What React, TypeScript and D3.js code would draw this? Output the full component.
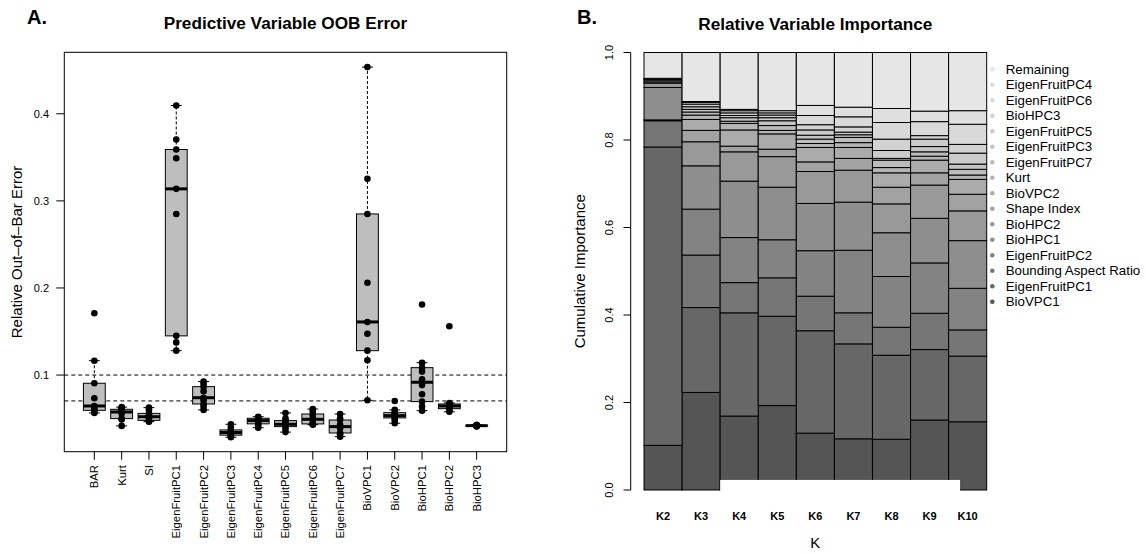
import React, { useEffect, useRef } from 'react';
import * as d3 from 'd3';

// ---- Panel A: OOB error per predictive variable (one run per dot) ----
const oobVariables = [
  "BAR", "Kurt", "SI", "EigenFruitPC1", "EigenFruitPC2", "EigenFruitPC3", "EigenFruitPC4",
  "EigenFruitPC5", "EigenFruitPC6", "EigenFruitPC7", "BioVPC1", "BioVPC2", "BioHPC1", "BioHPC2", "BioHPC3",
];
const oobBAR = [0.171, 0.1165, 0.0906, 0.0734, 0.0645, 0.0615, 0.0595, 0.0578, 0.0565];
const oobKurt = [0.0632, 0.0622, 0.0607, 0.0595, 0.0576, 0.056, 0.05, 0.049, 0.0416];
const oobSI = [0.0626, 0.06, 0.056, 0.0545, 0.0522, 0.0505, 0.048, 0.047, 0.0465];
const oobEFPC1 = [0.4095, 0.3705, 0.359, 0.349, 0.3138, 0.285, 0.145, 0.1375, 0.128];
const oobEFPC2 = [0.0925, 0.09, 0.0867, 0.0815, 0.074, 0.071, 0.0668, 0.064, 0.06];
const oobEFPC3 = [0.0435, 0.04, 0.037, 0.0355, 0.034, 0.0325, 0.031, 0.0295, 0.0286];
const oobEFPC4 = [0.0522, 0.051, 0.0504, 0.049, 0.0477, 0.0465, 0.044, 0.042, 0.0396];
const oobEFPC5 = [0.0565, 0.05, 0.0477, 0.045, 0.0435, 0.0425, 0.0408, 0.038, 0.0345];
const oobEFPC6 = [0.061, 0.0585, 0.0553, 0.053, 0.0492, 0.0475, 0.0439, 0.0435, 0.043];
const oobEFPC7 = [0.0553, 0.05, 0.0484, 0.043, 0.0408, 0.039, 0.0335, 0.032, 0.0293];
const oobBioVPC1 = [0.4536, 0.3253, 0.285, 0.206, 0.161, 0.1475, 0.128, 0.117, 0.071];
const oobBioVPC2 = [0.0703, 0.06, 0.0568, 0.0555, 0.0534, 0.0525, 0.0508, 0.048, 0.0447];
const oobBioHPC1 = [0.181, 0.1142, 0.1085, 0.104, 0.095, 0.0885, 0.078, 0.0695, 0.064, 0.0591];
const oobBioHPC2 = [0.156, 0.068, 0.0668, 0.0655, 0.0645, 0.063, 0.0614, 0.06, 0.0578];
const oobBioHPC3 = [0.0428, 0.0424, 0.0422, 0.042, 0.0419, 0.0418, 0.0416, 0.0414, 0.041];
const oobRuns = [
  oobBAR, oobKurt, oobSI, oobEFPC1, oobEFPC2, oobEFPC3, oobEFPC4, oobEFPC5,
  oobEFPC6, oobEFPC7, oobBioVPC1, oobBioVPC2, oobBioHPC1, oobBioHPC2, oobBioHPC3,
];
const oobTicks = [0.1, 0.2, 0.3, 0.4];
const oobCutoffs = [0.1, 0.0703];

// ---- Panel B: relative importance per K, stacked bottom-up ----
const importanceKeys = [
  "BioVPC1", "EigenFruitPC1", "Bounding Aspect Ratio", "EigenFruitPC2", "BioHPC1", "BioHPC2",
  "Shape Index", "BioVPC2", "Kurt", "EigenFruitPC7", "EigenFruitPC3", "EigenFruitPC5",
  "BioHPC3", "EigenFruitPC6", "EigenFruitPC4", "Remaining",
];
const kLabels = ["K2", "K3", "K4", "K5", "K6", "K7", "K8", "K9", "K10"];
const impK2 = [0.102, 0.682, 0.06, 0.002, 0.074, 0.01, 0.003, 0.004, 0.002, 0.002, 0, 0, 0, 0, 0, 0.059];
const impK3 = [0.223, 0.194, 0.12, 0.105, 0.099, 0.055, 0.026, 0.025, 0.01, 0.007, 0.006, 0.006, 0.006, 0.004, 0.002, 0.112];
const impK4 = [0.169, 0.236, 0.069, 0.103, 0.129, 0.067, 0.013, 0.037, 0.015, 0.005, 0.008, 0.005, 0.006, 0.005, 0.003, 0.13];
const impK5 = [0.193, 0.204, 0.088, 0.087, 0.12, 0.07, 0.017, 0.035, 0.008, 0.011, 0.011, 0.007, 0.006, 0.005, 0.005, 0.133];
const impK6 = [0.13, 0.234, 0.079, 0.104, 0.108, 0.073, 0.022, 0.033, 0.009, 0.01, 0.009, 0.012, 0.012, 0.021, 0.023, 0.121];
const impK7 = [0.117, 0.217, 0.071, 0.143, 0.11, 0.073, 0.027, 0.025, 0.011, 0.012, 0.006, 0.006, 0.012, 0.023, 0.022, 0.125];
const impK8 = [0.116, 0.192, 0.064, 0.116, 0.1, 0.066, 0.038, 0.033, 0.012, 0.017, 0.004, 0.018, 0.026, 0.038, 0.032, 0.128];
const impK9 = [0.16, 0.161, 0.083, 0.115, 0.102, 0.076, 0.028, 0.029, 0.009, 0.01, 0.012, 0.017, 0.008, 0.032, 0.024, 0.134];
const impK10 = [0.156, 0.15, 0.06, 0.095, 0.109, 0.068, 0.038, 0.034, 0.01, 0.013, 0.012, 0.025, 0.02, 0.046, 0.031, 0.133];
const importanceRuns = [impK2, impK3, impK4, impK5, impK6, impK7, impK8, impK9, impK10];
const importanceTicks = [0, 0.2, 0.4, 0.6, 0.8, 1.0];
const maskTop = 0.023;

const FONT = '"Liberation Sans", Arial, Helvetica, sans-serif';

// R-style fivenum (Tukey hinges)
function fivenum(values: number[]) {
  const s = values.slice().sort((a, b) => a - b);
  const n = s.length;
  const n4 = Math.floor((n + 3) / 2) / 2;
  const d = [1, n4, (n + 1) / 2, n + 1 - n4, n];
  return d.map(p => 0.5 * (s[Math.floor(p) - 1] + s[Math.ceil(p) - 1]));
}

// gray.colors-like ramp, dark -> light
function grayAt(i: number, n: number) {
  const g = 2.2;
  const a = Math.pow(1 / 3, g), b = Math.pow(0.9, g);
  const v = Math.pow(a + (b - a) * i / (n - 1), 1 / g);
  const c = Math.round(v * 255);
  return `rgb(${c},${c},${c})`;
}

const App = () => {
  const svgRef = useRef<SVGSVGElement>(null);

  useEffect(() => {
    if (!svgRef.current) return;
    const svg = d3.select(svgRef.current);
    svg.selectAll("*").remove();
    svg.attr("font-family", FONT);

    // ================= Panel A =================
    const x = d3.scaleLinear().domain([-0.1, 16.1]).range([64.3, 506.7]);
    const y = d3.scaleLinear().domain([0.012, 0.4706]).range([451.7, 52.3]);
    const unit = x(1) - x(0);
    const boxW = 0.8 * unit;
    const a = svg.append("g");

    a.append("text").attr("x", 27).attr("y", 24).attr("font-weight", "bold")
      .attr("font-size", 20).text("A.");
    a.append("text").attr("x", (x.range()[0] + x.range()[1]) / 2).attr("y", 29)
      .attr("text-anchor", "middle").attr("font-weight", "bold").attr("font-size", 17.2)
      .text("Predictive Variable OOB Error");

    // cutoff lines
    a.selectAll("line.cut").data(oobCutoffs).enter().append("line")
      .attr("x1", x.range()[0]).attr("x2", x.range()[1])
      .attr("y1", d => y(d)).attr("y2", d => y(d))
      .attr("stroke", "#000").attr("stroke-dasharray", "4,3");

    oobRuns.forEach((pts, i) => {
      const cx = x(i + 1);
      const [, q1, med, q3] = fivenum(pts);
      const iqr = q3 - q1;
      const hi = d3.max(pts.filter(v => v <= q3 + 1.5 * iqr)) as number;
      const lo = d3.min(pts.filter(v => v >= q1 - 1.5 * iqr)) as number;
      const g = a.append("g");
      g.append("line").attr("x1", cx).attr("x2", cx).attr("y1", y(q3)).attr("y2", y(hi))
        .attr("stroke", "#000").attr("stroke-dasharray", "3,2");
      g.append("line").attr("x1", cx).attr("x2", cx).attr("y1", y(q1)).attr("y2", y(lo))
        .attr("stroke", "#000").attr("stroke-dasharray", "3,2");
      [hi, lo].forEach(v => {
        g.append("line").attr("x1", cx - boxW / 4).attr("x2", cx + boxW / 4)
          .attr("y1", y(v)).attr("y2", y(v)).attr("stroke", "#000");
      });
      g.append("rect").attr("x", cx - boxW / 2).attr("width", boxW)
        .attr("y", y(q3)).attr("height", y(q1) - y(q3))
        .attr("fill", "#bebebe").attr("stroke", "#000");
      g.append("line").attr("x1", cx - boxW / 2).attr("x2", cx + boxW / 2)
        .attr("y1", y(med)).attr("y2", y(med)).attr("stroke", "#000").attr("stroke-width", 3);
      g.selectAll("circle").data(pts).enter().append("circle")
        .attr("cx", cx).attr("cy", d => y(d)).attr("r", 3.3).attr("fill", "#000");
    });

    // frame
    a.append("rect").attr("x", x.range()[0]).attr("y", y.range()[1])
      .attr("width", x.range()[1] - x.range()[0]).attr("height", y.range()[0] - y.range()[1])
      .attr("fill", "none").attr("stroke", "#000");

    // y axis
    a.selectAll("line.yt").data(oobTicks).enter().append("line")
      .attr("x1", x.range()[0] - 8).attr("x2", x.range()[0])
      .attr("y1", d => y(d)).attr("y2", d => y(d)).attr("stroke", "#000");
    a.selectAll("text.yt").data(oobTicks).enter().append("text")
      .attr("x", 49).attr("y", d => y(d)).attr("dy", "0.35em")
      .attr("text-anchor", "end").attr("font-size", 11).text(d => d3.format(".1f")(d));
    a.append("text").attr("transform", `translate(21.5,${(y.range()[0] + y.range()[1]) / 2}) rotate(-90)`)
      .attr("text-anchor", "middle").attr("font-size", 15).text("Relative Out–of–Bar Error");

    // x axis
    oobVariables.forEach((name, i) => {
      const cx = x(i + 1);
      a.append("line").attr("x1", cx).attr("x2", cx).attr("y1", y.range()[0]).attr("y2", y.range()[0] + 8)
        .attr("stroke", "#000");
      a.append("text").attr("transform", `translate(${cx},465) rotate(-90)`)
        .attr("text-anchor", "end").attr("dy", "0.35em").attr("font-size", 11.3).text(name);
    });

    // ================= Panel B =================
    const xb = d3.scaleBand().domain(kLabels).range([644, 986.7]).padding(0);
    const yb = d3.scaleLinear().domain([0, 1]).range([490, 52.5]);
    const b = svg.append("g");

    b.append("text").attr("x", 577).attr("y", 23.5).attr("font-weight", "bold")
      .attr("font-size", 20).text("B.");
    b.append("text").attr("x", (xb.range()[0] + xb.range()[1]) / 2).attr("y", 29.5)
      .attr("text-anchor", "middle").attr("font-weight", "bold").attr("font-size", 17.2)
      .text("Relative Variable Importance");

    const table = kLabels.map((k, j) => {
      const row: any = { K: k };
      importanceKeys.forEach((key, i) => { row[key] = importanceRuns[j][i]; });
      return row;
    });
    const series = d3.stack().keys(importanceKeys)(table);
    series.forEach((s, i) => {
      b.append("g").selectAll("rect").data(s).enter().append("rect")
        .attr("x", d => xb((d.data as any).K) as number)
        .attr("width", xb.bandwidth())
        .attr("y", d => yb(d[1]))
        .attr("height", d => yb(d[0]) - yb(d[1]))
        .attr("fill", grayAt(i, importanceKeys.length))
        .attr("stroke", "#000").attr("stroke-width", 1);
    });

    // white mask along the bottom of K4..K10
    b.append("rect").attr("x", xb("K4") as number)
      .attr("width", (xb("K10") as number) + 0.3 * xb.bandwidth() - (xb("K4") as number))
      .attr("y", yb(maskTop)).attr("height", yb(0) - yb(maskTop) + 2).attr("fill", "#fff");

    // y axis
    b.append("line").attr("x1", 630.7).attr("x2", 630.7).attr("y1", yb(0)).attr("y2", yb(1))
      .attr("stroke", "#000");
    b.selectAll("line.yt").data(importanceTicks).enter().append("line")
      .attr("x1", 623.5).attr("x2", 630.7).attr("y1", d => yb(d)).attr("y2", d => yb(d))
      .attr("stroke", "#000");
    b.selectAll("text.yt").data(importanceTicks).enter().append("text")
      .attr("transform", d => `translate(612.5,${yb(d)}) rotate(-90)`)
      .attr("text-anchor", "middle").attr("font-size", 11).text(d => d3.format(".1f")(d));
    b.append("text").attr("transform", `translate(584.5,${(yb(0) + yb(1)) / 2}) rotate(-90)`)
      .attr("text-anchor", "middle").attr("font-size", 15).text("Cumulative Importance");

    // x labels
    b.selectAll("text.k").data(kLabels).enter().append("text")
      .attr("x", d => (xb(d) as number) + xb.bandwidth() / 2).attr("y", 520)
      .attr("text-anchor", "middle").attr("font-weight", "bold").attr("font-size", 11).text(d => d);
    b.append("text").attr("x", (xb.range()[0] + xb.range()[1]) / 2).attr("y", 548)
      .attr("text-anchor", "middle").attr("font-size", 15).text("K");

    // legend (top = Remaining)
    const legendItems = importanceKeys.map((k, i) => ({ k, i })).reverse();
    const lg = b.append("g");
    legendItems.forEach((it, r) => {
      const ly = 69.3 + r * 15.5;
      lg.append("circle").attr("cx", 992.3).attr("cy", ly).attr("r", 2.3)
        .attr("fill", grayAt(it.i, importanceKeys.length));
      lg.append("text").attr("x", 1005.7).attr("y", ly).attr("dy", "0.35em")
        .attr("font-size", 13.3).text(it.k);
    });
  }, []);

  return (
    <svg ref={svgRef} width={1146} height={554}
      style={{ position: 'absolute', left: 0, top: 0, background: '#fff' }} />
  );
};

export default App;
